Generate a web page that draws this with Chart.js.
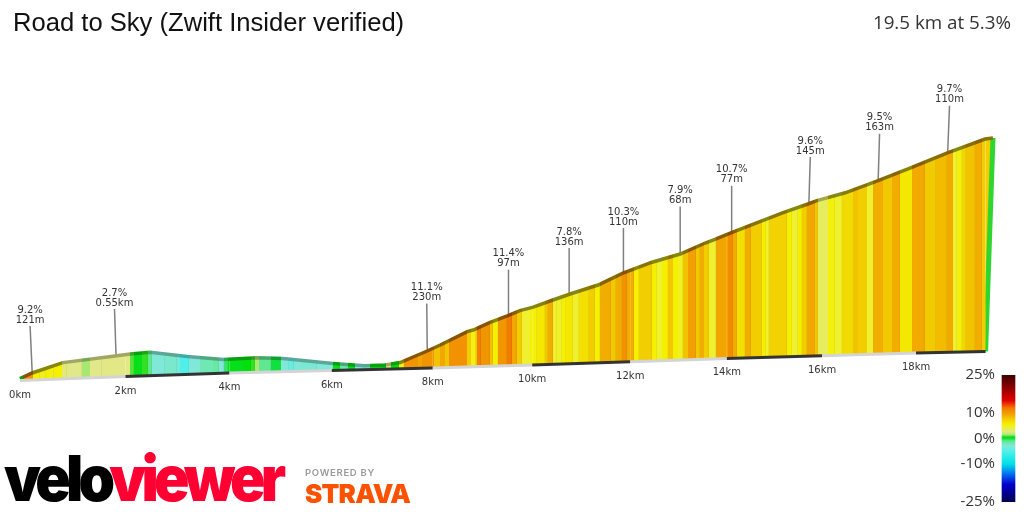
<!DOCTYPE html>
<html lang="en">
<head>
<meta charset="UTF-8">
<title>Road to Sky (Zwift Insider verified)</title>
<script src="https://cdn.jsdelivr.net/npm/chart.js@4"></script>
<style>
  html, body { margin: 0; background: #fff; }
  #page { position: relative; width: 1024px; height: 512px; overflow: hidden; }
  #profile { position: absolute; left: 0; top: 0; }
  #scaleBar { position: absolute; left: 955px; top: 360px; }
  .txt { position: absolute; white-space: nowrap; color: #222; }
  #title { left: 13px; top: 8px; font: 25.6px "Liberation Sans", sans-serif; color: #111; }
  #summary { right: 13px; top: 9px; font: 18.8px "Open Sans", sans-serif; color: #333; }
  #velo { left: 4px; top: 438px; font: 900 63px/80px Inter, sans-serif; letter-spacing: -5.2px; color: #000;
    transform: scaleX(0.93); transform-origin: left center; }
  #velo span { color: #ff0033; }
  #powered { left: 305px; top: 467px; font: 600 9.5px/12px Inter, sans-serif; letter-spacing: 0.7px; color: #999; }
  #strava { left: 305px; top: 479px; font: 900 26px/30px Inter, sans-serif; letter-spacing: -0.8px; color: #fc5200; }
</style>
</head>
<body>
<div id="page">
  <canvas id="profile" width="1024" height="512"></canvas>
  <canvas id="scaleBar" width="69" height="152"></canvas>
  <div class="txt" id="title">Road to Sky (Zwift Insider verified)</div>
  <div class="txt" id="summary">19.5 km at 5.3%</div>
  <div class="txt" id="velo">velo<span>viewer</span></div>
  <div class="txt" id="powered">POWERED BY</div>
  <div class="txt" id="strava">STRAVA</div>
</div>
<script>
// Elevation profile (km along the road, height in m)
const profileKm = [0, 0.23, 0.81, 1.8, 2.09, 2.47, 3.18, 3.88, 4.54, 5.04, 6.02, 6.65, 7.05, 7.35, 7.89, 8.15,
  8.69, 8.81, 9.15, 9.51, 9.75, 10.02, 10.42, 10.77, 11.34, 11.85, 12.45, 13.03, 13.55, 13.75, 14.11, 14.69,
  15.18, 15.7, 15.89, 16.49, 17.19, 17.91, 18.69, 19.49, 19.66];
const profileM = [12, 40, 92, 125, 135, 144, 122, 108, 116, 112, 88, 76, 80, 92, 150, 180,
  247, 255, 293, 327, 352, 369, 405, 435, 480, 539, 594, 635, 690, 708, 743, 797,
  842, 885, 902, 941, 1002, 1068, 1142, 1210, 1215];

// The tilted floor of the drawing, one point per km marker
const floorKm = [0, 2, 4, 6, 8, 10, 12, 14, 16, 18, 19.5];
const floorM = [2, 22, 40, 52, 65, 80, 96, 113, 126, 140, 148];
const tickLabels = ['0km', '2km', '4km', '6km', '8km', '10km', '12km', '14km', '16km', '18km'];

// Coloured stripes: where each one ends (km) and its gradient (%)
const bandEndKm = [0.06, 0.25, 0.38, 0.49, 0.57, 0.64, 0.8, 0.89, 1.17, 1.33, 1.55, 2.09, 2.16, 2.32, 2.43, 2.51,
  2.76, 2.99, 3.05, 3.22, 3.44, 3.69, 3.79, 3.89, 3.97, 4.27, 4.42, 4.5, 4.58, 4.81, 5.01, 5.15, 5.25, 5.38, 5.71, 6.02,
  6.16, 6.32, 6.46, 6.62, 6.76, 7.06, 7.16, 7.32, 7.43, 7.71, 7.79, 8.03, 8.15, 8.25, 8.33, 8.69, 8.77, 8.85, 8.89, 8.97,
  9.15, 9.21, 9.31, 9.49, 9.59, 9.69, 9.79, 9.96, 10.1, 10.26, 10.32, 10.42, 10.5, 10.6, 10.68, 10.83, 10.95, 11.15, 11.27, 11.37,
  11.6, 11.7, 11.83, 11.93, 12.08, 12.18, 12.45, 12.55, 12.66, 12.78, 12.89, 12.99, 13.09, 13.2, 13.36, 13.44, 13.53, 13.63, 13.77, 14.03,
  14.13, 14.21, 14.38, 14.5, 14.73, 14.82, 14.88, 15.26, 15.36, 15.49, 15.57, 15.68, 15.85, 15.91, 16.13, 16.27, 16.42, 16.66, 16.77, 16.96,
  17.09, 17.3, 17.49, 17.66, 17.92, 18.19, 18.43, 18.67, 18.8, 18.88, 18.99, 19.08, 19.27, 19.42, 19.66];
const bandGrade = [0.5, 10.5, 5.5, 5, 5.5, 5, 5.5, 3, 2.6, 1.5, 2.6, 2.7, 1, 0.3, 0.8, -1,
  -3, -2.6, -3.5, -5, -3, -2, -1.5, -3, -0.5, 0.3, 0.4, 0.8, 1.6, -1, 0, -3, -4, -3, -2.8, -3,
  0.3, -1.5, 0.3, -3, -2.5, 0.3, 2.6, 0.5, 5, 10.3, 9.5, 10.3, 8, 9.3, 8, 10.5, 7.5, 5, 7, 11.5,
  10.3, 8, 5.5, 10.3, 11.8, 9.3, 7.5, 4.5, 5.3, 6, 7.8, 9, 4.5, 4.7, 5.5, 6, 4.5, 6.5, 7.5, 5.5,
  9, 7.8, 9, 10.5, 9, 5.5, 7.5, 5.5, 4.5, 5.5, 7.8, 5.5, 4.8, 8, 9.8, 7.8, 9, 7.5, 4.5, 9.5,
  10.8, 9, 6.5, 9, 7.5, 5.5, 4.5, 7.3, 5.5, 4.5, 5.5, 7.5, 9.3, 7.8, 3.5, 5.2, 4.5, 6.8, 8, 7.5,
  4.5, 9, 7.8, 9, 6, 9.2, 7.7, 8.3, 9.2, 4.5, 5.2, 7, 8, 9, 7.5];

// Climb callouts
const climbKm = [0.23, 1.82, 7.89, 9.52, 10.75, 11.86, 13.03, 14.1, 15.72, 17.19, 18.68];
const climbLabelKm = [0.19, 1.79, 7.88, 9.52, 10.75, 11.86, 13.03, 14.1, 15.75, 17.22, 18.72];
const climbM = [40, 125, 152, 322, 430, 530, 637, 741, 885, 1001, 1141];
const climbPct = ['9.2%', '2.7%', '11.1%', '11.4%', '7.8%', '10.3%', '7.9%', '10.7%', '9.6%', '9.5%', '9.7%'];
const climbLen = ['121m', '0.55km', '230m', '97m', '136m', '110m', '68m', '77m', '145m', '163m', '110m'];

// Colour scale
const scaleTicks = [25, 10, 0, -10, -25];
const rampGrade = [-25, -18, -14, -10, -5, -3, -1, 0, 0.5, 1.5, 2.6, 4.5, 5.5, 7, 8, 9, 10.5, 12, 15, 20, 25];
const rampColor = ['#00004d', '#0000d0', '#0070f0', '#00e0e8', '#50f0e8', '#80e8d8', '#60e890', '#10e040', '#00e000',
  '#a8e870', '#e0e88a', '#eef030', '#f5f000', '#f2d800', '#f2c400', '#f2ae00', '#f29200', '#f27800', '#e00000', '#900000', '#3a0000'];

const hexRgb = h => [1, 3, 5].map(i => parseInt(h.substr(i, 2), 16));

function gradeColor(g, shade = 1) {
  let i = 0;
  while (i < rampGrade.length - 2 && g > rampGrade[i + 1]) i++;
  const t = Math.min(1, Math.max(0, (g - rampGrade[i]) / (rampGrade[i + 1] - rampGrade[i])));
  const a = hexRgb(rampColor[i]), b = hexRgb(rampColor[i + 1]);
  const c = a.map((v, k) => Math.round((v + (b[k] - v) * t) * shade));
  return `rgb(${c[0]},${c[1]},${c[2]})`;
}

// Horizontal gradient with hard stops, one stripe per band
function bandGradient(chart, shadeOf, seam) {
  const x = chart.scales.x;
  if (!x || !x.width) return 'transparent';
  const x0 = x.getPixelForValue(0);
  const x1 = x.getPixelForValue(bandEndKm[bandEndKm.length - 1]);
  const g = chart.ctx.createLinearGradient(x0, 0, x1, 0);
  const off = p => Math.min(1, Math.max(0, (p - x0) / (x1 - x0)));
  let from = x0;
  bandEndKm.forEach((km, i) => {
    const to = x.getPixelForValue(km);
    const shade = shadeOf(bandGrade[i]);
    g.addColorStop(off(from), gradeColor(bandGrade[i], shade));
    g.addColorStop(off(to - 0.7), gradeColor(bandGrade[i], shade));
    g.addColorStop(off(to - 0.7), gradeColor(bandGrade[i], shade * seam));
    g.addColorStop(off(to), gradeColor(bandGrade[i], shade * seam));
    from = to;
  });
  return g;
}

// The road recedes slightly, so each km takes a little less width further on
class ProfileScale extends Chart.LinearScale {
  getPixelForValue(v) { return this.left + 20 + v / (0.018816 + 0.0000707 * v); }
  getValueForPixel(p) { const d = p - this.left - 20; return 0.018816 * d / (1 - 0.0000707 * d); }
}
ProfileScale.id = 'profileKm';
ProfileScale.defaults = Chart.LinearScale.defaults;
Chart.register(ProfileScale);

const asPoints = (xs, ys) => xs.map((x, i) => ({ x, y: ys[i] }));
const lastKm = profileKm[profileKm.length - 1];
const lastM = profileM[profileM.length - 1];
const LEADER = 235;

const labelPlugin = {
  id: 'profileLabels',
  afterDatasetsDraw(chart) {
    const { ctx, scales: { x, y } } = chart;
    ctx.save();
    ctx.font = '10px "DejaVu Sans"';
    ctx.fillStyle = '#333';
    ctx.textAlign = 'center';
    ctx.textBaseline = 'middle';
    tickLabels.forEach((t, i) => {
      ctx.fillText(t, x.getPixelForValue(floorKm[i]), y.getPixelForValue(floorM[i]) + 14.5);
    });
    climbKm.forEach((km, i) => {
      const px = x.getPixelForValue(climbLabelKm[i]);
      const py = y.getPixelForValue(climbM[i] + LEADER);
      ctx.fillText(climbPct[i], px, py - 16);
      ctx.fillText(climbLen[i], px, py - 6);
    });
    ctx.restore();
  }
};

new Chart(document.getElementById('profile'), {
  type: 'line',
  plugins: [labelPlugin],
  data: {
    datasets: [
      {
        label: 'floor',
        data: asPoints(floorKm, floorM),
        borderWidth: 3,
        borderColor: '#d4d4d4',
        segment: { borderColor: c => c.p0DataIndex % 2 ? '#333333' : '#d4d4d4' },
        pointRadius: 0,
        fill: false
      },
      {
        label: 'elevation',
        data: asPoints(profileKm, profileM),
        borderWidth: 3.5,
        borderColor: c => bandGradient(c.chart, g => g < 4 ? 0.72 : 0.56, 1),
        backgroundColor: c => bandGradient(c.chart, () => 1, 0.95),
        pointRadius: 0,
        fill: 0
      },
      {
        label: 'end wall',
        data: [{ x: floorKm[floorKm.length - 1], y: floorM[floorM.length - 1] }, { x: lastKm, y: lastM }],
        borderWidth: 5,
        borderColor: '#2fd62f',
        backgroundColor: gradeColor(bandGrade[bandGrade.length - 1]),
        pointRadius: 0,
        fill: 1
      },
      ...climbKm.map((km, i) => ({
        label: climbPct[i],
        data: [{ x: km, y: climbM[i] }, { x: climbLabelKm[i], y: climbM[i] + LEADER }],
        borderWidth: 1.5,
        borderColor: '#808080',
        pointRadius: 0,
        fill: false
      }))
    ]
  },
  options: {
    responsive: false,
    animation: false,
    layout: { padding: 0 },
    plugins: { legend: { display: false }, tooltip: { enabled: false } },
    scales: {
      x: { type: 'profileKm', min: 0, max: 20, display: false },
      y: { type: 'linear', min: -655, max: 1905, display: false }
    }
  }
});

new Chart(document.getElementById('scaleBar'), {
  type: 'bar',
  data: {
    labels: ['grade'],
    datasets: [{
      data: [[scaleTicks[scaleTicks.length - 1], scaleTicks[0]]],
      barThickness: 13,
      borderWidth: 0,
      backgroundColor: c => {
        const y = c.chart.scales.y;
        if (!y || !y.height) return 'transparent';
        const top = y.getPixelForValue(scaleTicks[0]);
        const bottom = y.getPixelForValue(scaleTicks[scaleTicks.length - 1]);
        const g = c.chart.ctx.createLinearGradient(0, bottom, 0, top);
        rampGrade.forEach((v, i) => g.addColorStop((v + 25) / 50, rampColor[i]));
        return g;
      }
    }]
  },
  options: {
    responsive: false,
    animation: false,
    layout: { padding: { top: 15, bottom: 9, right: 3, left: 0 } },
    plugins: { legend: { display: false }, tooltip: { enabled: false } },
    scales: {
      x: { display: false },
      y: {
        min: -25,
        max: 25,
        grid: { display: false, drawTicks: false, tickLength: 0 },
        border: { display: false },
        afterFit: s => { s.width = 41; },
        afterBuildTicks: s => { s.ticks = scaleTicks.map(value => ({ value })); },
        ticks: {
          padding: 1,
          color: '#333',
          font: { family: 'Open Sans', size: 15 },
          callback: v => v + '%'
        }
      }
    }
  }
});
</script>
</body>
</html>
